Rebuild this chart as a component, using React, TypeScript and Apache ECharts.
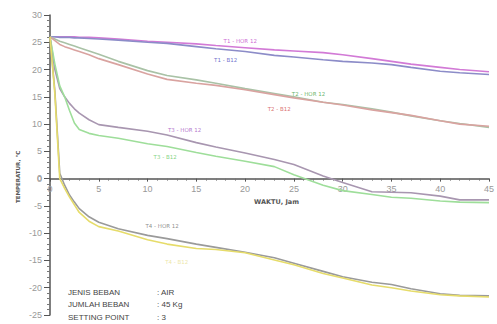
import React, { useEffect, useRef } from "react";
import * as echarts from "echarts";

const times = [0, 0.5, 1, 1.5, 2, 2.5, 3, 4, 5, 7, 10, 12, 15, 17, 20, 23, 25, 28, 30, 33, 35, 37, 40, 42, 45];

const t1Hor12 = [26, 26, 26, 26, 26, 26, 25.9, 25.9, 25.8, 25.6, 25.2, 25.0, 24.7, 24.4, 24.0, 23.6, 23.4, 23.1, 22.7, 22.0, 21.5, 21.0, 20.4, 20.0, 19.6];
const t1B12 = [26, 26, 25.9, 25.9, 25.9, 25.8, 25.8, 25.7, 25.6, 25.4, 25.0, 24.8, 24.2, 23.8, 23.3, 22.6, 22.3, 21.8, 21.5, 21.2, 20.9, 20.4, 19.7, 19.4, 19.1];
const t2Hor12 = [26, 25.6, 25.2, 24.9, 24.6, 24.3, 24.0, 23.4, 22.8, 21.5, 19.8, 18.9, 18.1, 17.5, 16.5, 15.6, 15.0, 14.0, 13.6, 12.8, 12.2, 11.5, 10.6, 10.1, 9.4];
const t2B12 = [26, 25.3, 24.6, 24.2, 23.9, 23.6, 23.3, 22.7, 22.0, 20.9, 19.2, 18.2, 17.5, 17.1, 16.3, 15.4, 14.8, 14.0, 13.5, 12.6, 12.1, 11.6, 10.6, 10.0, 9.6];
const t3Hor12 = [26, 20, 16.5, 15, 13.8, 12.8, 12.0, 10.8, 9.9, 9.4, 8.7, 8.0, 6.6, 5.8, 4.7, 3.5, 2.6, 0.5, -0.7, -2.4, -2.5, -2.6, -3.2, -3.9, -3.9];
const t3B12 = [26, 21, 17, 15, 12.5, 10.2, 9.0, 8.3, 7.9, 7.4, 6.4, 5.9, 4.8, 4.1, 3.2, 2.2, 0.7, -1.2, -2.2, -2.9, -3.4, -3.6, -4.1, -4.3, -4.4];
const t4Hor12 = [26, 16, 1.0, -1.2, -3.0, -4.3, -5.5, -7.0, -8.0, -9.2, -10.4, -11.0, -12.0, -12.6, -13.5, -14.5, -15.5, -17.0, -18.0, -19.0, -19.4, -20.2, -21.1, -21.4, -21.5];
const t4B12 = [26, 15.5, 0, -1.8, -3.4, -4.8, -6.2, -7.8, -8.8, -9.6, -11.2, -12.0, -12.8, -13.0, -13.6, -14.9, -15.8, -17.4, -18.2, -19.5, -20.0, -20.6, -21.3, -21.5, -21.7];

const seriesNames = ["T1 - HOR 12", "T1 - B12", "T2 - HOR 12", "T2 - B12", "T3 - HOR 12", "T3 - B12", "T4 - HOR 12", "T4 - B12"];
const seriesValues = [t1Hor12, t1B12, t2Hor12, t2B12, t3Hor12, t3B12, t4Hor12, t4B12];
const lineColors = ["#d27ad6", "#8c8cc8", "#a9c2a6", "#d9a3a0", "#a896b0", "#9ede9a", "#9a9a9a", "#e6dc6a"];

const labelTexts = ["T1 - HOR 12", "T1 - B12", "T2 - HOR 12", "T2 - B12", "T3 - HOR 12", "T3 - B12", "T4 - HOR 12", "T4 - B12"];
const labelX = [19.5, 18, 26.5, 23.5, 13.8, 11.8, 11.5, 13];
const labelY = [25.3, 21.7, 15.6, 12.8, 9.0, 4.0, -8.6, -15.2];
const labelColors = ["#c040c8", "#4a4ac0", "#40a040", "#d04848", "#a050c0", "#60c860", "#707070", "#e8e090"];

const infoKeys = ["JENIS BEBAN", "JUMLAH BEBAN", "SETTING POINT"];
const infoVals = [": AIR", ": 45 Kg", ": 3"];

const X_MIN = 0;
const X_MAX = 45;
const X_STEP = 5;
const Y_MIN = -25;
const Y_MAX = 30;
const Y_STEP = 5;
const GRID_LEFT = 50;
const GRID_TOP = 15;
const GRID_BOTTOM = 9;
const CHART_H = 324;

export default function App() {
  const ref = useRef<HTMLDivElement>(null);
  useEffect(() => {
    if (!ref.current) return;
    const chart = echarts.init(ref.current, null, { renderer: "svg" });
    const plotH = CHART_H - GRID_TOP - GRID_BOTTOM;
    const zeroOffset = -(plotH * (0 - Y_MIN)) / (Y_MAX - Y_MIN);
    const zeroY = GRID_TOP + (plotH * (Y_MAX - 0)) / (Y_MAX - Y_MIN);
    const lineSeries = seriesNames.map((name, i) => ({
      name,
      type: "line",
      data: times.map((t, j) => [t, seriesValues[i][j]]),
      showSymbol: false,
      smooth: false,
      lineStyle: { color: lineColors[i], width: 1.6 },
      z: 3,
    }));
    const labelSeries = {
      type: "scatter",
      symbolSize: 0,
      silent: true,
      data: labelTexts.map((txt, i) => ({
        value: [labelX[i], labelY[i]],
        label: {
          show: true,
          formatter: txt,
          position: "inside",
          fontSize: 5.5,
          fontFamily: "DejaVu Sans",
          color: labelColors[i],
        },
      })),
      z: 5,
    };
    const graphics: any[] = [
      {
        type: "text",
        left: 254,
        top: 198,
        style: { text: "WAKTU, Jam", fontSize: 6.5, fontWeight: "bold", fill: "#555", fontFamily: "DejaVu Sans" },
      },
      {
        type: "text",
        x: 15,
        y: 203,
        rotation: Math.PI / 2,
        style: { text: "TEMPERATUR, °C", fontSize: 5.5, fontWeight: "bold", fill: "#555", fontFamily: "DejaVu Sans" },
      },
      {
        type: "text",
        x: GRID_LEFT - 13,
        y: zeroY - 5,
        z: 100,
        style: { text: "0", fontSize: 9, fill: "#999", fontFamily: "sans-serif" },
      },
    ];
    infoKeys.forEach((k, i) => {
      graphics.push({
        type: "text",
        x: 68,
        y: 288 + i * 12.5,
        style: { text: k, fontSize: 8, fill: "#444", fontFamily: "Liberation Sans" },
      });
      graphics.push({
        type: "text",
        x: 157,
        y: 288 + i * 12.5,
        style: { text: infoVals[i], fontSize: 8, fill: "#444", fontFamily: "Liberation Sans" },
      });
    });
    chart.setOption({
      animation: false,
      backgroundColor: "#ffffff",
      grid: { left: GRID_LEFT, right: 2, top: GRID_TOP, bottom: GRID_BOTTOM, containLabel: false },
      xAxis: {
        type: "value",
        min: X_MIN,
        max: X_MAX,
        interval: X_STEP,
        offset: zeroOffset,
        axisLine: { onZero: false, lineStyle: { color: "#555", width: 1.5 } },
        axisTick: { show: true, length: 3, lineStyle: { color: "#555" } },
        minorTick: { show: true, splitNumber: 5, length: 2, lineStyle: { color: "#777" } },
        axisLabel: { color: "#999", fontSize: 9, margin: 6, showMaxLabel: true, showMinLabel: true },
        splitLine: { show: false },
      },
      yAxis: {
        type: "value",
        min: Y_MIN,
        max: Y_MAX,
        interval: Y_STEP,
        axisLine: { show: true, onZero: false, lineStyle: { color: "#555", width: 1.5 } },
        axisTick: { show: true, length: 6, lineStyle: { color: "#555" } },
        minorTick: { show: true, splitNumber: 5, length: 3, lineStyle: { color: "#777" } },
        axisLabel: { color: "#999", fontSize: 9, margin: 8, showMinLabel: true, showMaxLabel: true },
        splitLine: { show: false },
      },
      series: [...lineSeries, labelSeries],
      graphic: graphics,
    } as any);
    return () => chart.dispose();
  }, []);
  return <div ref={ref} style={{ width: 497, height: 324, position: "absolute", left: 0, top: 0 }} />;
}
